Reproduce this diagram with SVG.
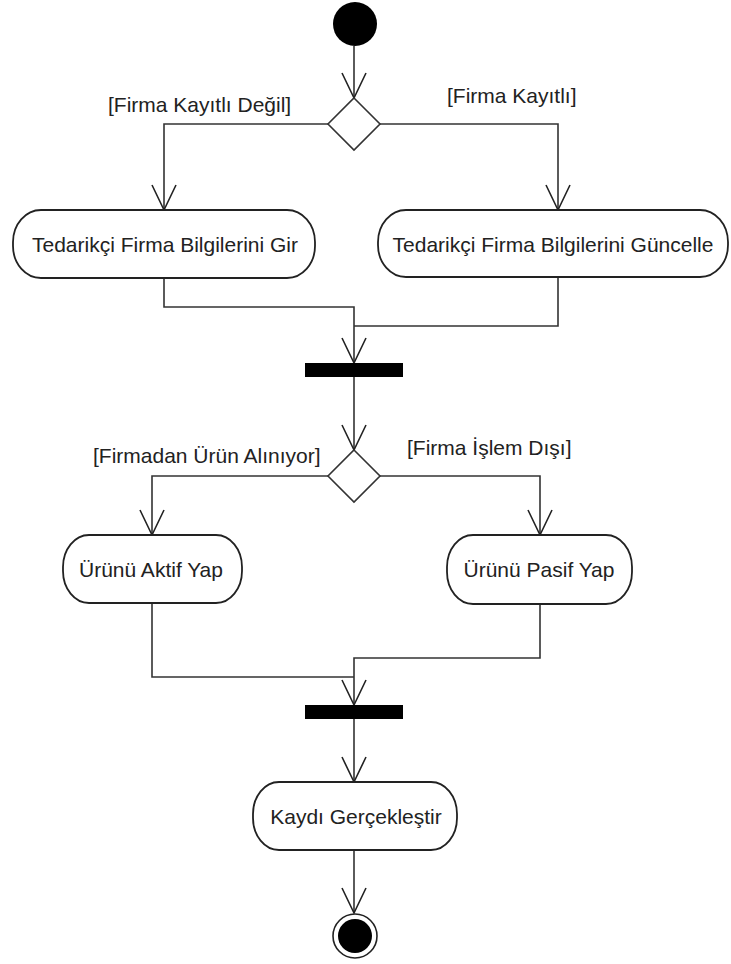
<svg xmlns="http://www.w3.org/2000/svg" width="731" height="964" viewBox="0 0 731 964">
<style>
.act{fill:#fff;stroke:#222;stroke-width:1.8}
.dec{fill:#fff;stroke:#333;stroke-width:1.6}
.bar{fill:#000}
.lbl{font-family:"Liberation Sans",Arial,sans-serif;font-size:21px;fill:#222}
.mid{text-anchor:middle}
.con{fill:none;stroke:#333;stroke-width:1.6}
</style>
<defs>
<marker id="arr" markerUnits="userSpaceOnUse" viewBox="-27 -14 29 28" refX="0" refY="0" markerWidth="29" markerHeight="28" orient="auto">
<path d="M-25,-12 L0,0 L-25,12" fill="none" stroke="#222" stroke-width="1.6"/>
</marker>
</defs>
<rect width="731" height="964" fill="#fff"/>
<g id="connectors">
<path class="con" d="M354,46 L354,98" marker-end="url(#arr)"/>
<path class="con" d="M328,124 L164,124 L164,210" marker-end="url(#arr)"/>
<path class="con" d="M380,124 L558,124 L558,210" marker-end="url(#arr)"/>
<path class="con" d="M164,278 L164,307 L354,307 L354,363" marker-end="url(#arr)"/>
<path class="con" d="M558,277 L558,326 L354,326"/>
<path class="con" d="M354,377 L354,450" marker-end="url(#arr)"/>
<path class="con" d="M328,476 L152,476 L152,535" marker-end="url(#arr)"/>
<path class="con" d="M380,476 L540,476 L540,535" marker-end="url(#arr)"/>
<path class="con" d="M152,603 L152,677 L354,677"/>
<path class="con" d="M540,604 L540,658 L354,658 L354,705" marker-end="url(#arr)"/>
<path class="con" d="M354,719 L354,782" marker-end="url(#arr)"/>
<path class="con" d="M354,850 L354,913" marker-end="url(#arr)"/>
</g>
<g id="guards">
<text class="lbl" x="108" y="112">[Firma Kayıtlı Değil]</text>
<text class="lbl" x="447" y="103">[Firma Kayıtlı]</text>
<text class="lbl" x="93" y="463">[Firmadan Ürün Alınıyor]</text>
<text class="lbl" x="407" y="455">[Firma İşlem Dışı]</text>
</g>
<g id="start"><circle cx="355" cy="24" r="22" fill="#000"/></g>
<g id="decision1"><path class="dec" d="M354,98 L380,124 L354,150 L328,124 Z"/></g>
<g id="act-gir"><rect class="act" x="13" y="210" width="302" height="68" rx="28" ry="32"/><text class="lbl mid" x="165" y="252">Tedarikçi Firma Bilgilerini Gir</text></g>
<g id="act-guncelle"><rect class="act" x="378" y="210" width="350" height="67" rx="28" ry="32"/><text class="lbl mid" x="553" y="252">Tedarikçi Firma Bilgilerini Güncelle</text></g>
<g id="join1"><rect class="bar" x="305" y="363" width="98" height="14"/></g>
<g id="decision2"><path class="dec" d="M354,450 L380,476 L354,502 L328,476 Z"/></g>
<g id="act-aktif"><rect class="act" x="63" y="535" width="179" height="68" rx="26" ry="32"/><text class="lbl mid" x="151" y="577">Ürünü Aktif Yap</text></g>
<g id="act-pasif"><rect class="act" x="447" y="535" width="185" height="69" rx="26" ry="32"/><text class="lbl mid" x="539" y="577">Ürünü Pasif Yap</text></g>
<g id="join2"><rect class="bar" x="305" y="705" width="98" height="14"/></g>
<g id="act-kayit"><rect class="act" x="253" y="782" width="204" height="68" rx="26" ry="32"/><text class="lbl mid" x="356" y="824">Kaydı Gerçekleştir</text></g>
<g id="end"><circle cx="355" cy="936" r="22" fill="#fff" stroke="#222" stroke-width="1.6"/><circle cx="355" cy="936" r="17" fill="#000"/></g>
</svg>
